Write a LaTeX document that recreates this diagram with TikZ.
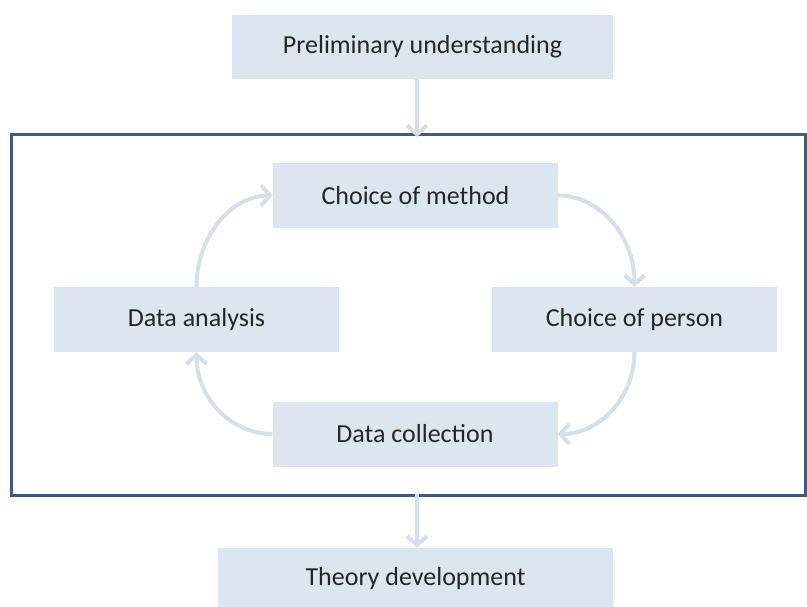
\documentclass[tikz,border=0pt]{standalone}
\usepackage{fontspec}
\setmainfont{Carlito}
\usetikzlibrary{arrows.meta}
\definecolor{boxfill}{RGB}{220,230,241}
\definecolor{arrowcol}{RGB}{214,224,236}
\definecolor{framecol}{RGB}{68,90,125}
\definecolor{textcol}{RGB}{38,38,38}
\tikzset{
  stepbox/.style={fill=boxfill, draw=none, minimum width=285pt, minimum height=65pt, inner sep=0pt, text=textcol, font=\fontsize{26}{30}\selectfont},
  flow/.style={draw=arrowcol, line width=4pt, -{Straight Barb[length=9pt,width=20pt,line width=4pt]}}
}
\begin{document}
\begin{tikzpicture}[x=1pt,y=-1pt]
\useasboundingbox (0,0) rectangle (807,607);
\node[stepbox, minimum width=381pt, minimum height=64pt] (pre) at (422.5,47) {Preliminary understanding};
\draw[framecol, line width=3pt] (11,134.5) rectangle (805,495.5);
\coordinate (ftop) at (417,134.5);
\coordinate (fbot) at (417,495.5);
\node[stepbox] (meth) at (415.5,195.5) {Choice of method};
\node[stepbox] (pers) at (634.5,319.5) {Choice of person};
\node[stepbox] (coll) at (415,434) {Data collection};
\node[stepbox] (ana) at (196.5,319.5) {Data analysis};
\node[stepbox, minimum width=395pt, minimum height=62pt] (theo) at (415.5,579) {Theory development};
\draw[flow] ([xshift=-5.5pt]pre.south) -- ([yshift=-2.5pt]ftop);
\draw[flow] ([yshift=2pt]fbot) -- ([xshift=1.5pt]theo.north);
\draw[flow] (meth.east) .. controls ++(42,0) and ++(0,-50) .. (pers.north);
\draw[flow] (pers.south) .. controls ++(0,45) and ++(42,0) .. (coll.east);
\draw[flow] (coll.west) .. controls ++(-42,0) and ++(0,45) .. (ana.south);
\draw[flow] (ana.north) .. controls ++(0,-50) and ++(-42,0) .. (meth.west);
\end{tikzpicture}
\end{document}
